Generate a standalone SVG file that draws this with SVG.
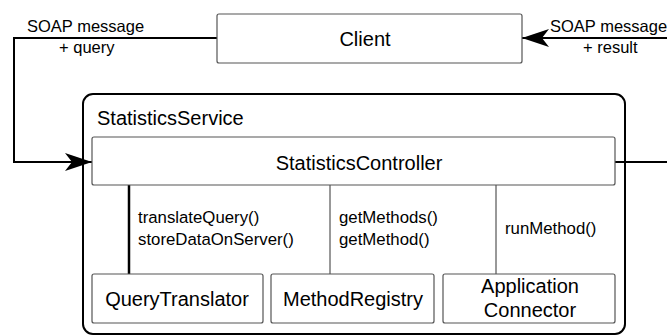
<svg xmlns="http://www.w3.org/2000/svg" width="667" height="336" viewBox="0 0 667 336">
<style>
text{font-family:"Liberation Sans",Arial,sans-serif;fill:#000}
.box{fill:#fff;stroke:#555;stroke-width:1.2}
.lbl{font-size:20px;text-anchor:middle}
.small{font-size:16.8px}
.soap{font-size:16.5px}
.conn{fill:none;stroke:#000;stroke-width:2}
.thin{fill:none;stroke:#333;stroke-width:1}
</style>
<defs>
<marker id="arr" viewBox="0 0 28 18" refX="27" refY="9" markerWidth="28" markerHeight="18" markerUnits="userSpaceOnUse" orient="auto">
<path d="M0,0 L27,9 L0,18 L7,9 Z" fill="#000"/>
</marker>
</defs>
<g id="StatisticsService">
<rect x="83" y="94" width="542" height="240" rx="10" fill="#fff" stroke="#000" stroke-width="2"/>
<text x="97" y="125" font-size="20">StatisticsService</text>
</g>
<g id="connectors">
<polyline class="conn" points="217,38 14,38 14,162 92,162" marker-end="url(#arr)"/>
<polyline class="conn" points="615,162 669,162 669,38 522,38" marker-end="url(#arr)"/>
<line x1="129" y1="185" x2="129" y2="274" stroke="#000" stroke-width="2.5"/>
<line class="thin" x1="330" y1="185" x2="330" y2="274"/>
<line class="thin" x1="496" y1="185" x2="496" y2="274"/>
</g>
<g id="Client">
<rect class="box" x="217" y="14" width="305" height="49" rx="2"/>
<text class="lbl" x="365" y="46">Client</text>
</g>
<g id="StatisticsController">
<rect class="box" x="92" y="137" width="523" height="48" rx="2"/>
<text class="lbl" x="359" y="170">StatisticsController</text>
</g>
<g id="QueryTranslator">
<rect class="box" x="92" y="274" width="171" height="49" rx="2"/>
<text class="lbl" x="177" y="306">QueryTranslator</text>
</g>
<g id="MethodRegistry">
<rect class="box" x="271" y="274" width="163" height="49" rx="2"/>
<text class="lbl" x="353" y="306">MethodRegistry</text>
</g>
<g id="ApplicationConnector">
<rect class="box" x="443" y="274" width="172" height="49" rx="2"/>
<text class="lbl" x="530" y="293">Application</text>
<text class="lbl" x="530" y="317">Connector</text>
</g>
<g id="labels">
<text class="soap" x="27" y="32">SOAP message</text>
<text class="soap" x="59" y="53">+ query</text>
<text class="soap" x="550" y="32">SOAP message</text>
<text class="soap" x="583" y="53">+ result</text>
<text class="small" x="138" y="223">translateQuery()</text>
<text class="small" x="138" y="245">storeDataOnServer()</text>
<text class="small" x="339" y="223">getMethods()</text>
<text class="small" x="339" y="245">getMethod()</text>
<text class="small" x="505" y="234">runMethod()</text>
</g>
</svg>
